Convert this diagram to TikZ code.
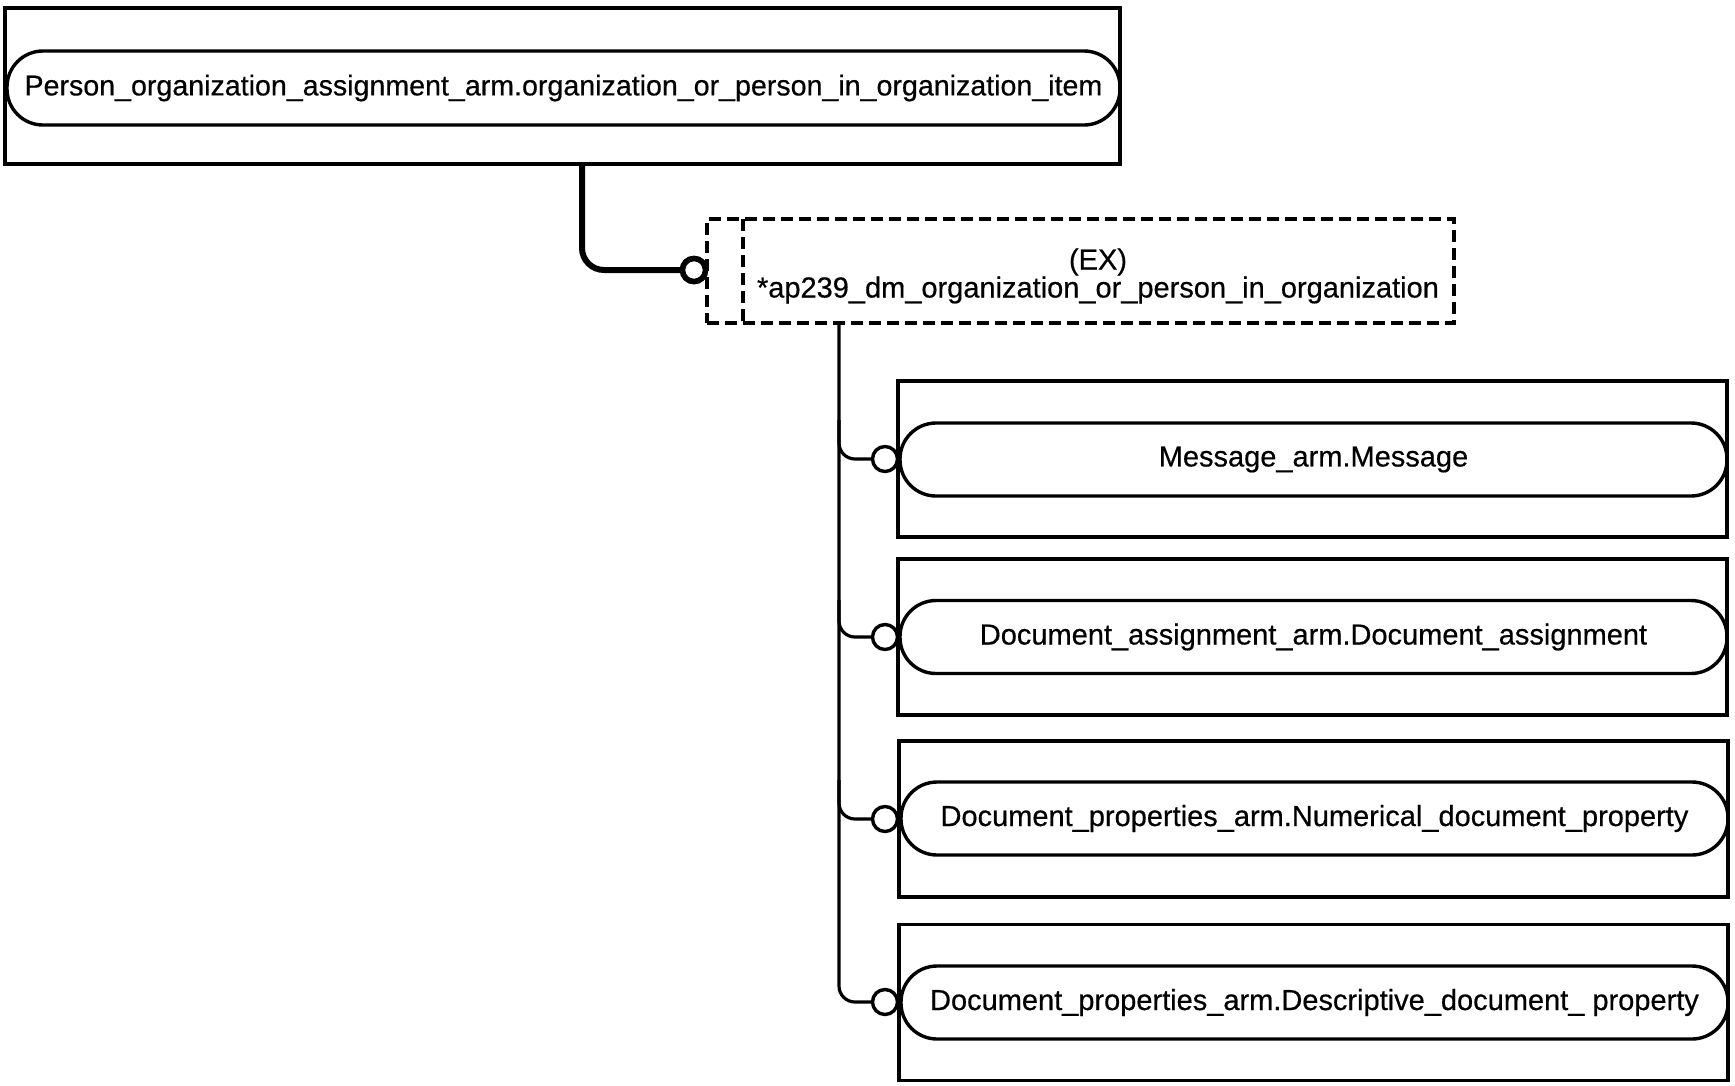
\documentclass[tikz,border=0pt]{standalone}
\usepackage{fontspec}
\setmainfont{Liberation Sans}
\newfontfamily\lblfont{Liberation Sans}[FakeBold=0.5]
\begin{document}
\begin{tikzpicture}[x=1pt,y=-1pt,
  lbl/.style={font=\lblfont\fontsize{29}{28}\selectfont},
  toplbl/.style={font=\lblfont\fontsize{28.6}{28}\selectfont},
  outerbox/.style={draw, line width=3.4pt, minimum width=829pt, minimum height=156pt, inner sep=0pt},
  pill/.style={draw, line width=3.4pt, rounded corners=36pt, minimum width=827pt, minimum height=73pt, inner sep=0pt, lbl},
  port/.style={circle, draw, line width=3.4pt, fill=white, minimum size=25pt, inner sep=0pt},
  bigport/.style={circle, draw, line width=5.5pt, fill=white, minimum size=23pt, inner sep=0pt},
  link/.style={draw, line width=3.2pt, rounded corners=16pt},
  biglink/.style={draw, line width=6pt, rounded corners=22pt},
  exbox/.style={draw, line width=3.4pt, dash pattern=on 12pt off 6pt, minimum width=747pt, minimum height=104pt, inner sep=0pt}
]
\useasboundingbox (0,0) rectangle (1735,1085);

% top select item
\node[draw, line width=3.4pt, minimum width=1115pt, minimum height=156pt, inner sep=0pt] (topbox) at (562.5,86) {};
\node[pill, toplbl, minimum width=1113pt, minimum height=74pt] (toppill) at (563.5,88) {Person\_organization\_assignment\_arm.organization\_or\_person\_in\_organization\_item};

% extension box
\node[exbox] (ex) at (1080.5,271) {};
\draw[line width=3.4pt, dash pattern=on 12pt off 6pt] (743,219) coordinate (exinnertop) -- (743,323) coordinate (exinnerbot);
\node[lbl, align=center] (extext) at (1098,276) {(EX)\\*ap239\_dm\_organization\_or\_person\_in\_organization};

% thick connector
\coordinate (topdrop) at (582,164);
\node[bigport] (c0) at (694,270) {};
\draw[biglink] (topdrop) |- (c0.west);
\node[bigport] at (694,270) {};

% items
\node[outerbox] (b1) at (1312.5,459) {};
\node[pill] (p1) at (1313.5,459.5) {Message\_arm.Message};
\node[outerbox] (b2) at (1312.5,637) {};
\node[pill] (p2) at (1313.5,637) {Document\_assignment\_arm.Document\_assignment};
\node[outerbox] (b3) at (1313.5,819) {};
\node[pill] (p3) at (1314.5,818.5) {Document\_properties\_arm.Numerical\_document\_property};
\node[outerbox] (b4) at (1313.5,1002.5) {};
\node[pill] (p4) at (1314.5,1002.5) {Document\_properties\_arm.Descriptive\_document\_ property};

\node[port] (c1) at (885,459) {};
\node[port] (c2) at (885,637) {};
\node[port] (c3) at (885,819) {};
\node[port] (c4) at (885,1002) {};

\coordinate (spinetop) at (839,323);
\coordinate (s1) at (839,420);
\coordinate (s2) at (839,600);
\coordinate (s3) at (839,780);
\draw[link] (spinetop) |- (c4.west);
\draw[link] (s1) |- (c1.west);
\draw[link] (s2) |- (c2.west);
\draw[link] (s3) |- (c3.west);
\end{tikzpicture}
\end{document}
